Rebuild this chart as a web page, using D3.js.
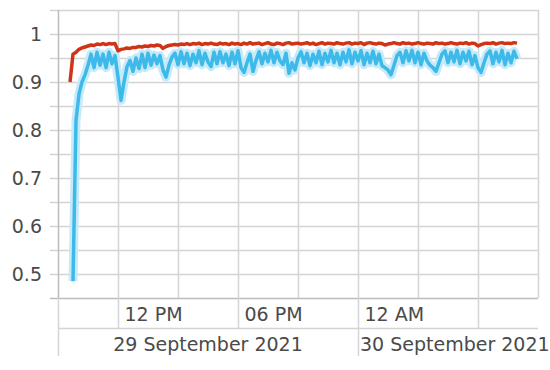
<!DOCTYPE html>
<html>
<head>
<meta charset="utf-8">
<script src="https://cdn.jsdelivr.net/npm/d3@7"></script>
<style>
  body { margin: 0; background: #fff; }
  svg text { font-family: "DejaVu Sans", Verdana, sans-serif; fill: #4a4a4a; }
</style>
</head>
<body>
<svg id="chart" width="550" height="370"></svg>
<script>
// time range shown and sampling of the two series
var domainStart = new Date(2021, 8, 29, 9, 0);
var domainEnd = new Date(2021, 8, 30, 9, 0);
var seriesStart = new Date(2021, 8, 29, 9, 36);
var stepMinutes = 9;

// upper series (red)
var redValues = [
  0.900, 0.958, 0.962, 0.968, 0.971, 0.973, 0.975, 0.977, 0.976, 0.979,
  0.978, 0.980, 0.978, 0.980, 0.979, 0.980, 0.965, 0.968, 0.969, 0.971,
  0.970, 0.972, 0.972, 0.974, 0.973, 0.975, 0.974, 0.976, 0.975, 0.977,
  0.976, 0.970, 0.974, 0.976, 0.977, 0.978, 0.977, 0.979, 0.978, 0.980,
  0.978, 0.980, 0.979, 0.981, 0.978, 0.980, 0.979, 0.981, 0.979, 0.978,
  0.981, 0.979, 0.980, 0.978, 0.981, 0.979, 0.980, 0.978, 0.981, 0.979,
  0.982, 0.979, 0.980, 0.981, 0.978, 0.980, 0.982, 0.979, 0.978, 0.981,
  0.980, 0.978, 0.981, 0.982, 0.979, 0.980, 0.981, 0.979, 0.980, 0.982,
  0.979, 0.981, 0.978, 0.980, 0.982, 0.979, 0.981, 0.980, 0.979, 0.982,
  0.980, 0.979, 0.981, 0.982, 0.979, 0.981, 0.980, 0.982, 0.978, 0.981,
  0.982, 0.980, 0.979, 0.981, 0.980, 0.977, 0.979, 0.980, 0.982, 0.980,
  0.979, 0.982, 0.980, 0.981, 0.979, 0.980, 0.982, 0.980, 0.979, 0.981,
  0.980, 0.979, 0.982, 0.980, 0.981, 0.979, 0.980, 0.982, 0.980, 0.979,
  0.981, 0.980, 0.982, 0.979, 0.981, 0.980, 0.975, 0.978, 0.980, 0.981,
  0.980, 0.982, 0.979, 0.981, 0.982, 0.980, 0.981, 0.980, 0.982, 0.981
];

// lower series (blue), first sample missing
var blueValues = [
  null,  0.485, 0.820, 0.875, 0.900, 0.915, 0.935, 0.958, 0.930, 0.962,
  0.935, 0.958, 0.930, 0.962, 0.938, 0.955, 0.910, 0.862, 0.900, 0.932,
  0.945, 0.922, 0.950, 0.928, 0.958, 0.930, 0.960, 0.935, 0.956, 0.938,
  0.955, 0.925, 0.910, 0.935, 0.952, 0.960, 0.936, 0.963, 0.938, 0.960,
  0.934, 0.958, 0.940, 0.965, 0.936, 0.960, 0.942, 0.932, 0.962, 0.938,
  0.963, 0.940, 0.958, 0.934, 0.962, 0.938, 0.965, 0.930, 0.920, 0.940,
  0.958, 0.922, 0.945, 0.963, 0.938, 0.960, 0.942, 0.966, 0.940, 0.962,
  0.944, 0.936, 0.960, 0.918, 0.940, 0.925, 0.950, 0.963, 0.940, 0.960,
  0.934, 0.958, 0.940, 0.964, 0.936, 0.960, 0.942, 0.966, 0.940, 0.960,
  0.936, 0.962, 0.942, 0.967, 0.938, 0.962, 0.944, 0.965, 0.936, 0.960,
  0.940, 0.964, 0.938, 0.958, 0.934, 0.930, 0.925, 0.915, 0.935, 0.955,
  0.962, 0.940, 0.965, 0.944, 0.966, 0.940, 0.962, 0.936, 0.960, 0.944,
  0.935, 0.930, 0.922, 0.940, 0.958, 0.965, 0.940, 0.962, 0.942, 0.966,
  0.938, 0.962, 0.944, 0.964, 0.936, 0.955, 0.930, 0.920, 0.940, 0.958,
  0.965, 0.938, 0.962, 0.942, 0.966, 0.936, 0.960, 0.940, 0.964, 0.948
];

// value axis
var yGridValues = [0.45, 0.5, 0.55, 0.6, 0.65, 0.7, 0.75, 0.8, 0.85, 0.9, 0.95, 1, 1.05];
var yLabelValues = [0.5, 0.6, 0.7, 0.8, 0.9, 1];

var svg = d3.select("#chart");
var plotLeft = 58, plotRight = 538, plotTop = 10, plotBottom = 298;
var row1 = 328, row2 = 356;
var gridColor = "#d4d4d4", axisColor = "#bcbcbc";

var x = d3.scaleTime().domain([domainStart, domainEnd]).range([plotLeft, plotRight]);
var y = d3.scaleLinear().domain([0.45, 1.05]).range([plotBottom, plotTop]);

function timeAt(i) { return d3.timeMinute.offset(seriesStart, i * stepMinutes); }

// horizontal grid
svg.append("g").selectAll("line")
    .data(yGridValues)
    .enter().append("line")
    .attr("x1", plotLeft - 8).attr("x2", plotRight)
    .attr("y1", function(d) { return Math.round(y(d)) + 0.5; })
    .attr("y2", function(d) { return Math.round(y(d)) + 0.5; })
    .attr("stroke", function(d) { return d === 0.45 ? axisColor : gridColor; })
    .attr("stroke-width", 1.5);

// vertical grid every 3 hours
var gridTimes = d3.timeHour.every(3).range(domainStart, d3.timeMinute.offset(domainEnd, 1));
svg.append("g").selectAll("line")
    .data(gridTimes)
    .enter().append("line")
    .attr("x1", function(d) { return Math.round(x(d)) + 0.5; })
    .attr("x2", function(d) { return Math.round(x(d)) + 0.5; })
    .attr("y1", plotTop).attr("y2", plotBottom)
    .attr("stroke", function(d, i) { return i === 0 ? axisColor : gridColor; })
    .attr("stroke-width", 1.5);

// y labels
svg.append("g").selectAll("text")
    .data(yLabelValues)
    .enter().append("text")
    .attr("x", 42)
    .attr("y", function(d) { return y(d); })
    .attr("dy", "0.35em")
    .attr("text-anchor", "end")
    .style("font-size", "19px")
    .text(function(d) { return d3.format("")(d); });

// bottom axis: two rows (time of day, date)
var axis = svg.append("g");
axis.append("line")
    .attr("x1", plotLeft).attr("x2", plotRight)
    .attr("y1", row1 + 0.5).attr("y2", row1 + 0.5)
    .attr("stroke", gridColor).attr("stroke-width", 1.5);
axis.append("line")
    .attr("x1", plotLeft + 0.5).attr("x2", plotLeft + 0.5)
    .attr("y1", plotBottom).attr("y2", row2)
    .attr("stroke", gridColor).attr("stroke-width", 1.5);

var hourTicks = d3.timeHour.every(6).range(domainStart, domainEnd);
var hourFmt = d3.timeFormat("%I %p");
hourTicks.forEach(function(t, i) {
    var px = Math.round(x(t)) + 0.5;
    var isDay = +d3.timeDay.floor(t) === +t;
    axis.append("line")
        .attr("x1", px).attr("x2", px)
        .attr("y1", plotBottom).attr("y2", isDay ? row2 : row1)
        .attr("stroke", gridColor).attr("stroke-width", 1.5);
    var label = axis.append("text")
        .attr("x", px + 6).attr("y", row1 - 7)
        .style("font-size", "19px")
        .text(hourFmt(t));
    var next = i + 1 < hourTicks.length ? x(hourTicks[i + 1]) : plotRight;
    if (px + 6 + label.node().getComputedTextLength() > next) label.remove();
});

var days = [d3.timeDay.floor(domainStart)].concat(d3.timeDay.range(d3.timeDay.ceil(domainStart), domainEnd));
var dayFmt = d3.timeFormat("%-d %B %Y");
days.forEach(function(d) {
    var x0 = Math.max(plotLeft, x(d)), x1 = Math.min(plotRight, x(d3.timeDay.offset(d, 1)));
    var label = axis.append("text")
        .attr("y", row2 - 5)
        .style("font-size", "19px")
        .text(dayFmt(d));
    var w = label.node().getComputedTextLength();
    label.attr("x", Math.max(x0 + 2, (x0 + x1) / 2 - w / 2));
});

// series
var line = d3.line()
    .defined(function(d) { return d != null; })
    .x(function(d, i) { return x(timeAt(i)); })
    .y(function(d) { return y(d); });

svg.append("path")
    .attr("d", line(blueValues))
    .attr("fill", "none")
    .attr("stroke", "#c6eaf9")
    .attr("stroke-width", 9)
    .attr("stroke-linejoin", "round");
svg.append("path")
    .attr("d", line(blueValues))
    .attr("fill", "none")
    .attr("stroke", "#3db9ea")
    .attr("stroke-width", 3.5)
    .attr("stroke-linejoin", "round");
svg.append("path")
    .attr("d", line(redValues))
    .attr("fill", "none")
    .attr("stroke", "#cf3417")
    .attr("stroke-width", 3.5)
    .attr("stroke-linejoin", "round");
</script>
</body>
</html>
